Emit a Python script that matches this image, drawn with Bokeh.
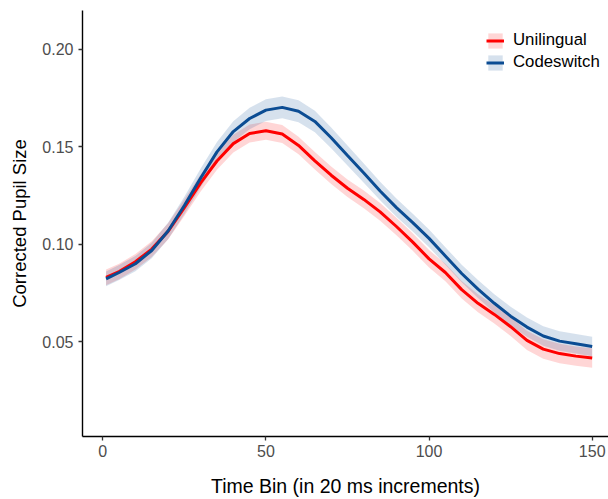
from bokeh.plotting import figure
from bokeh.models import Range1d, Legend, LegendItem, FixedTicker, ColumnDataSource
from bokeh.embed import file_html
from bokeh.resources import INLINE

time_bin = [1, 5, 10, 15, 20, 25, 30, 35, 40, 45, 50, 55, 60, 65, 70, 75, 80,
            85, 90, 95, 100, 105, 110, 115, 120, 125, 130, 135, 140, 145, 150]

unilingual = [0.0830, 0.0860, 0.0910, 0.0975, 0.1066, 0.1188, 0.1315, 0.1427,
              0.1516, 0.1568, 0.1582, 0.1565, 0.1507, 0.1428, 0.1354, 0.1287,
              0.1230, 0.1166, 0.1091, 0.1011, 0.0925, 0.0855, 0.0767, 0.0697,
              0.0640, 0.0577, 0.0507, 0.0462, 0.0439, 0.0426, 0.0416]
unilingual_se = [0.0040, 0.0040, 0.0040, 0.0040, 0.0042, 0.0043, 0.0044, 0.0045,
                 0.0045, 0.0046, 0.0046, 0.0046, 0.0045, 0.0045, 0.0045, 0.0045,
                 0.0045, 0.0045, 0.0045, 0.0045, 0.0045, 0.0045, 0.0045, 0.0046,
                 0.0047, 0.0048, 0.0049, 0.0050, 0.0050, 0.0050, 0.0050]

codeswitch = [0.0822, 0.0855, 0.0900, 0.0968, 0.1068, 0.1199, 0.1340, 0.1474,
              0.1578, 0.1645, 0.1688, 0.1702, 0.1682, 0.1630, 0.1546, 0.1455,
              0.1365, 0.1273, 0.1188, 0.1111, 0.1030, 0.0940, 0.0850, 0.0770,
              0.0697, 0.0631, 0.0575, 0.0529, 0.0503, 0.0490, 0.0475]
codeswitch_se = [0.0038, 0.0038, 0.0039, 0.0040, 0.0042, 0.0045, 0.0048, 0.0050,
                 0.0053, 0.0055, 0.0056, 0.0056, 0.0056, 0.0055, 0.0053, 0.0051,
                 0.0049, 0.0048, 0.0047, 0.0046, 0.0045, 0.0045, 0.0045, 0.0046,
                 0.0047, 0.0048, 0.0049, 0.0050, 0.0050, 0.0050, 0.0050]

x_ticks = [0, 50, 100, 150]
y_ticks = [0.05, 0.10, 0.15, 0.20]
y_tick_labels = {0.05: "0.05", 0.10: "0.10", 0.15: "0.15", 0.20: "0.20"}

series_names = ["Unilingual", "Codeswitch"]
line_colors = ["#FF0000", "#0B4C93"]

FONT = "Liberation Sans"

p = figure(width=608, height=499, output_backend="svg", toolbar_location=None,
           x_range=Range1d(-6.22, 155.0), y_range=Range1d(0.00137, 0.2199),
           min_border_left=82, min_border_right=0, min_border_top=10,
           min_border_bottom=58)
p.outline_line_color = None
p.grid.grid_line_color = None
p.background_fill_color = "white"

src_u = ColumnDataSource(dict(x=time_bin, y=unilingual,
                              lo=[m - s for m, s in zip(unilingual, unilingual_se)],
                              hi=[m + s for m, s in zip(unilingual, unilingual_se)]))
src_c = ColumnDataSource(dict(x=time_bin, y=codeswitch,
                              lo=[m - s for m, s in zip(codeswitch, codeswitch_se)],
                              hi=[m + s for m, s in zip(codeswitch, codeswitch_se)]))

rib_u = p.varea(x="x", y1="lo", y2="hi", source=src_u, fill_color=line_colors[0], fill_alpha=0.16)
rib_c = p.varea(x="x", y1="lo", y2="hi", source=src_c, fill_color=line_colors[1], fill_alpha=0.17)
ln_u = p.line(x="x", y="y", source=src_u, line_color=line_colors[0], line_width=3)
ln_c = p.line(x="x", y="y", source=src_c, line_color=line_colors[1], line_width=3)

legend = Legend(items=[LegendItem(label=series_names[0], renderers=[rib_u, ln_u]),
                       LegendItem(label=series_names[1], renderers=[rib_c, ln_c])],
                location=(404, 364), orientation="vertical",
                glyph_width=18, glyph_height=19, spacing=2, padding=0, margin=0,
                label_standoff=9, label_text_font=FONT, label_text_font_size="16.8px",
                label_text_color="black", label_height=19,
                border_line_color=None, background_fill_alpha=0)
p.add_layout(legend)

for ax in (p.xaxis[0], p.yaxis[0]):
    ax.axis_line_color = "black"
    ax.axis_line_width = 1.4
    ax.major_tick_line_color = "#333333"
    ax.major_tick_line_width = 1.3
    ax.major_tick_in = 0
    ax.major_tick_out = 4
    ax.minor_tick_line_color = None
    ax.major_label_text_font = FONT
    ax.major_label_text_font_size = "16px"
    ax.major_label_text_color = "#4D4D4D"
    ax.axis_label_text_font = FONT
    ax.axis_label_text_font_style = "normal"
    ax.axis_label_text_color = "black"

p.xaxis.ticker = FixedTicker(ticks=x_ticks)
p.yaxis.ticker = FixedTicker(ticks=y_ticks)
p.yaxis.major_label_overrides = y_tick_labels
p.xaxis.axis_label = "Time Bin (in 20 ms increments)"
p.yaxis.axis_label = "Corrected Pupil Size"
p.xaxis.axis_label_text_font_size = "19.5px"
p.yaxis.axis_label_text_font_size = "18.5px"
p.xaxis.major_label_standoff = 4
p.xaxis.axis_label_standoff = 15
p.yaxis.major_label_standoff = 5
p.yaxis.axis_label_standoff = 9

open("out.html", "w").write(file_html(p, INLINE))
